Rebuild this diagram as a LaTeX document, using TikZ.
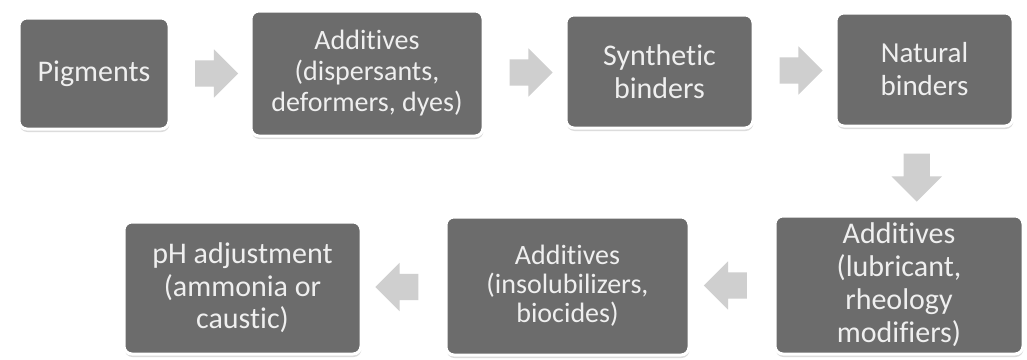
\documentclass[tikz,border=0pt]{standalone}
\usepackage{fontspec}
\setmainfont{Carlito}[RawFeature={-liga;-calt;-clig}]
\usetikzlibrary{shapes.arrows,shadows,calc}
\definecolor{boxfill}{HTML}{6C6C6C}
\definecolor{arrowgray}{HTML}{CFCFCF}
\definecolor{boxtext}{HTML}{EFEFEF}
\begin{document}
\begin{tikzpicture}[x=1pt,y=-1pt,
  stepbox/.style={draw=white, line width=3pt, fill=boxfill, rounded corners=8pt,
    text=boxtext, font=\fontsize{30}{33}\selectfont, align=center, inner sep=0pt,
    drop shadow={shadow xshift=0.5pt, shadow yshift=-3pt, fill=black!30, opacity=0.45}},
  flow/.style={single arrow, fill=arrowgray, draw=none, minimum height=43pt,
    single arrow head extend=11pt, inner sep=0pt}]
\fill[white] (0,0) rectangle (1027,359);
\useasboundingbox (0,0) rectangle (1027,359);

\node[stepbox, minimum width=150pt, minimum height=111pt] (pig) at (94,73.5) {Pigments};
\node[stepbox, minimum width=232pt, minimum height=125pt, font=\fontsize{28}{31}\selectfont] (add1) at (367,73.5) {Additives\\(dispersants,\\deformers, dyes)};
\node[stepbox, minimum width=187pt, minimum height=113pt] (syn) at (659.5,71.5) {Synthetic\\binders};
\node[stepbox, minimum width=177pt, minimum height=113pt, font=\fontsize{29}{33}\selectfont] (nat) at (924.5,69.5) {Natural\\binders};
\node[stepbox, minimum width=248pt, minimum height=138pt] (lub) at (899,285) {Additives\\(lubricant,\\rheology\\modifiers)};
\node[stepbox, minimum width=243pt, minimum height=138pt, font=\fontsize{28}{29}\selectfont] (ins) at (567.5,286) {Additives\\(insolubilizers,\\biocides)};
\node[stepbox, minimum width=237pt, minimum height=132pt, font=\fontsize{30}{32.5}\selectfont] (ph) at (242.5,288) {pH adjustment\\(ammonia or\\caustic)};

\node[flow] (a1) at ($(pig.east)!0.5!(add1.west)$) {\phantom{\rule{0pt}{26pt}}};
\node[flow] (a2) at ($(add1.east)!0.5!(syn.west)$) {\phantom{\rule{0pt}{26pt}}};
\node[flow] (a3) at ($(syn.east)!0.5!(nat.west)$) {\phantom{\rule{0pt}{26pt}}};
\node[flow, rotate=-90, minimum height=48pt, single arrow head extend=12pt] (a4) at ($($(nat.south)!0.5!(lub.north)$)+(5,0)$) {\phantom{\rule{0pt}{26pt}}};
\node[flow, rotate=180] (a5) at ($(lub.west)!0.5!(ins.east)$) {\phantom{\rule{0pt}{26pt}}};
\node[flow, rotate=180] (a6) at ($(ins.west)!0.5!(ph.east)$) {\phantom{\rule{0pt}{26pt}}};
\end{tikzpicture}
\end{document}
